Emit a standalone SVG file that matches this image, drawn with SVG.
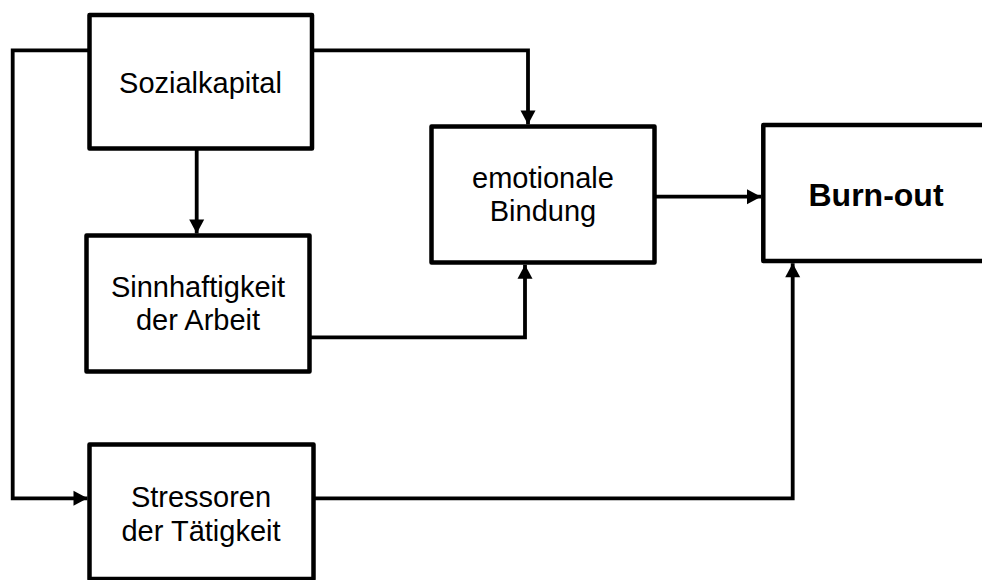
<svg xmlns="http://www.w3.org/2000/svg" width="982" height="580" viewBox="0 0 982 580">
  <defs>
    <marker id="arrow" markerUnits="userSpaceOnUse" markerWidth="16" markerHeight="16" viewBox="0 0 16 16" refX="15" refY="8" orient="auto">
      <path d="M1,0.5 L15,8 L1,15.5 Z" fill="#000"/>
    </marker>
    <style>
      .box { fill: #fff; stroke: #000; stroke-width: 4.5; stroke-linejoin: round; }
      .lbl { font-family: "Liberation Sans", Arial, sans-serif; font-size: 29px; fill: #000; text-anchor: middle; }
      .bold { font-weight: bold; font-size: 32px; }
      .conn path { fill: none; stroke: #000; stroke-width: 3.8; stroke-linejoin: miter; marker-end: url(#arrow); }
    </style>
  </defs>
  <rect width="982" height="580" fill="#fff"/>

  <g id="connectors" class="conn">
    <path d="M311,50.3 H528 V124.5"/>
    <path d="M89.5,50.3 H12.7 V498.3 H87.5"/>
    <path d="M196.7,148.5 V233.5"/>
    <path d="M309.7,337.3 H525 V264.8"/>
    <path d="M654.5,196.7 H761"/>
    <path d="M313.3,498.3 H792.7 V263.3"/>
  </g>

  <g id="sozialkapital">
    <rect class="box" x="89.5" y="15" width="222.5" height="133.5"/>
    <text class="lbl" x="200.5" y="93">Sozialkapital</text>
  </g>

  <g id="sinnhaftigkeit">
    <rect class="box" x="86.5" y="235.5" width="223" height="136"/>
    <text class="lbl" x="198" y="297">Sinnhaftigkeit</text>
    <text class="lbl" x="198" y="330">der Arbeit</text>
  </g>

  <g id="emotionale-bindung">
    <rect class="box" x="431.5" y="126.5" width="223" height="136"/>
    <text class="lbl" x="543" y="188">emotionale</text>
    <text class="lbl" x="543" y="221">Bindung</text>
  </g>

  <g id="burnout">
    <rect class="box" x="763.3" y="125" width="230" height="136"/>
    <text class="lbl bold" x="876" y="206">Burn-out</text>
  </g>

  <g id="stressoren">
    <rect class="box" x="89.5" y="444.5" width="224" height="134.5"/>
    <text class="lbl" x="201" y="507">Stressoren</text>
    <text class="lbl" x="201" y="541">der Tätigkeit</text>
  </g>
</svg>
